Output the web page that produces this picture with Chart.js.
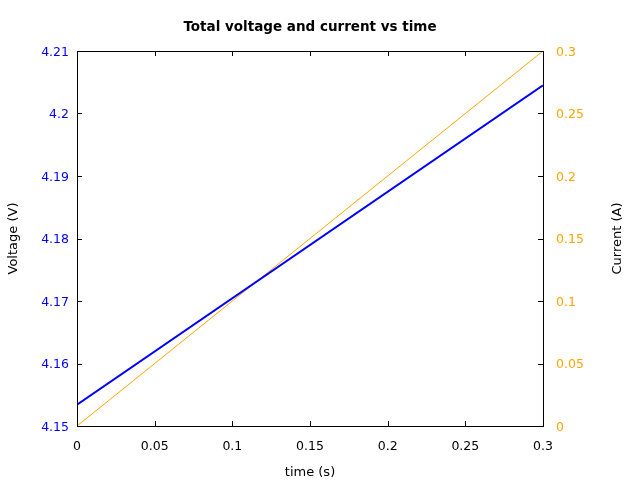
<!DOCTYPE html>
<html>
<head>
<meta charset="utf-8">
<script src="https://cdn.jsdelivr.net/npm/chart.js@4"></script>
<style>
html,body{margin:0;padding:0;background:#fff;}
#c{display:block;}
</style>
</head>
<body>
<canvas id="c" width="640" height="480"></canvas>
<script>
// Data
const timeS = [0, 0.3];
const voltageV = [4.1534, 4.2045];
const currentA = [0, 0.3];

const xTicks = [0, 0.05, 0.1, 0.15, 0.2, 0.25, 0.3];
const voltageTicks = [4.15, 4.16, 4.17, 4.18, 4.19, 4.2, 4.21];
const currentTicks = [0, 0.05, 0.1, 0.15, 0.2, 0.25, 0.3];

const titleText = 'Total voltage and current vs time';
const xTitle = 'time (s)';
const yTitle = 'Voltage (V)';
const y1Title = 'Current (A)';

const BLUE = '#0000ff';
const ORANGE = '#ffa500';
const FONT = 'DejaVu Sans';
const TICK_SIZE = 12.5;

const fmt = v => String(+(+v).toFixed(4));

const framePlugin = {
  id: 'frame',
  afterDraw(chart) {
    const {ctx, chartArea: a, scales} = chart;
    ctx.save();
    ctx.strokeStyle = '#000';
    ctx.lineWidth = 1;
    ctx.strokeRect(Math.round(a.left) + 0.5, Math.round(a.top) + 0.5,
      Math.round(a.right - a.left), Math.round(a.bottom - a.top));
    const tl = 5;
    ctx.beginPath();
    xTicks.forEach(v => {
      const px = Math.round(scales.x.getPixelForValue(v)) + 0.5;
      ctx.moveTo(px, a.bottom); ctx.lineTo(px, a.bottom - tl);
      ctx.moveTo(px, a.top); ctx.lineTo(px, a.top + tl);
    });
    voltageTicks.forEach(v => {
      const py = Math.round(scales.y.getPixelForValue(v)) + 0.5;
      ctx.moveTo(a.left, py); ctx.lineTo(a.left + tl, py);
    });
    currentTicks.forEach(v => {
      const py = Math.round(scales.y1.getPixelForValue(v)) + 0.5;
      ctx.moveTo(a.right, py); ctx.lineTo(a.right - tl, py);
    });
    ctx.stroke();
    // right axis title, rotated bottom-to-top
    ctx.translate(618, (a.top + a.bottom) / 2);
    ctx.rotate(-Math.PI / 2);
    ctx.fillStyle = '#000';
    ctx.font = '13px "' + FONT + '"';
    ctx.textAlign = 'center';
    ctx.textBaseline = 'middle';
    ctx.fillText(y1Title, 0, 0);
    ctx.restore();
  }
};

new Chart(document.getElementById('c'), {
  type: 'line',
  data: {
    datasets: [
      {
        label: 'Voltage',
        data: timeS.map((t, i) => ({x: t, y: voltageV[i]})),
        borderColor: BLUE,
        borderWidth: 2,
        pointRadius: 0,
        yAxisID: 'y',
        tension: 0
      },
      {
        label: 'Current',
        data: timeS.map((t, i) => ({x: t, y: currentA[i]})),
        borderColor: ORANGE,
        borderWidth: 1,
        pointRadius: 0,
        yAxisID: 'y1',
        tension: 0
      }
    ]
  },
  options: {
    responsive: false,
    animation: false,
    layout: {padding: 0},
    plugins: {
      legend: {display: false},
      tooltip: {enabled: false},
      title: {
        display: true,
        text: titleText,
        fullSize: false,
        color: '#000',
        font: {family: FONT, size: 13.5, weight: 'bold'},
        padding: {top: 18.9, bottom: 15.9}
      }
    },
    scales: {
      x: {
        type: 'linear',
        position: 'bottom',
        min: 0, max: 0.3,
        afterBuildTicks: s => { s.ticks = xTicks.map(v => ({value: v})); },
        ticks: {color: '#000', font: {family: FONT, size: TICK_SIZE}, padding: 13.5, maxRotation: 0, callback: fmt},
        grid: {display: false, drawTicks: false},
        border: {display: false},
        title: {display: true, text: xTitle, color: '#000', font: {family: FONT, size: 13}, padding: {top: 9, bottom: 0}},
        afterFit: s => { s.height = 54; }
      },
      y: {
        type: 'linear',
        position: 'left',
        min: 4.15, max: 4.21,
        afterBuildTicks: s => { s.ticks = voltageTicks.map(v => ({value: v})); },
        ticks: {color: BLUE, font: {family: FONT, size: TICK_SIZE}, padding: 8, labelOffset: 1.5, callback: fmt},
        grid: {display: false, drawTicks: false},
        border: {display: false},
        title: {display: true, text: yTitle, color: '#000', font: {family: FONT, size: 13}, padding: {top: 5.5, bottom: 0}},
        afterFit: s => { s.width = 77; }
      },
      y1: {
        type: 'linear',
        position: 'right',
        min: 0, max: 0.3,
        afterBuildTicks: s => { s.ticks = currentTicks.map(v => ({value: v})); },
        ticks: {color: ORANGE, font: {family: FONT, size: TICK_SIZE}, padding: 13, labelOffset: 1.5, callback: fmt},
        grid: {display: false, drawTicks: false},
        border: {display: false},
        afterFit: s => { s.width = 97; }
      }
    }
  },
  plugins: [framePlugin]
});
</script>
</body>
</html>
